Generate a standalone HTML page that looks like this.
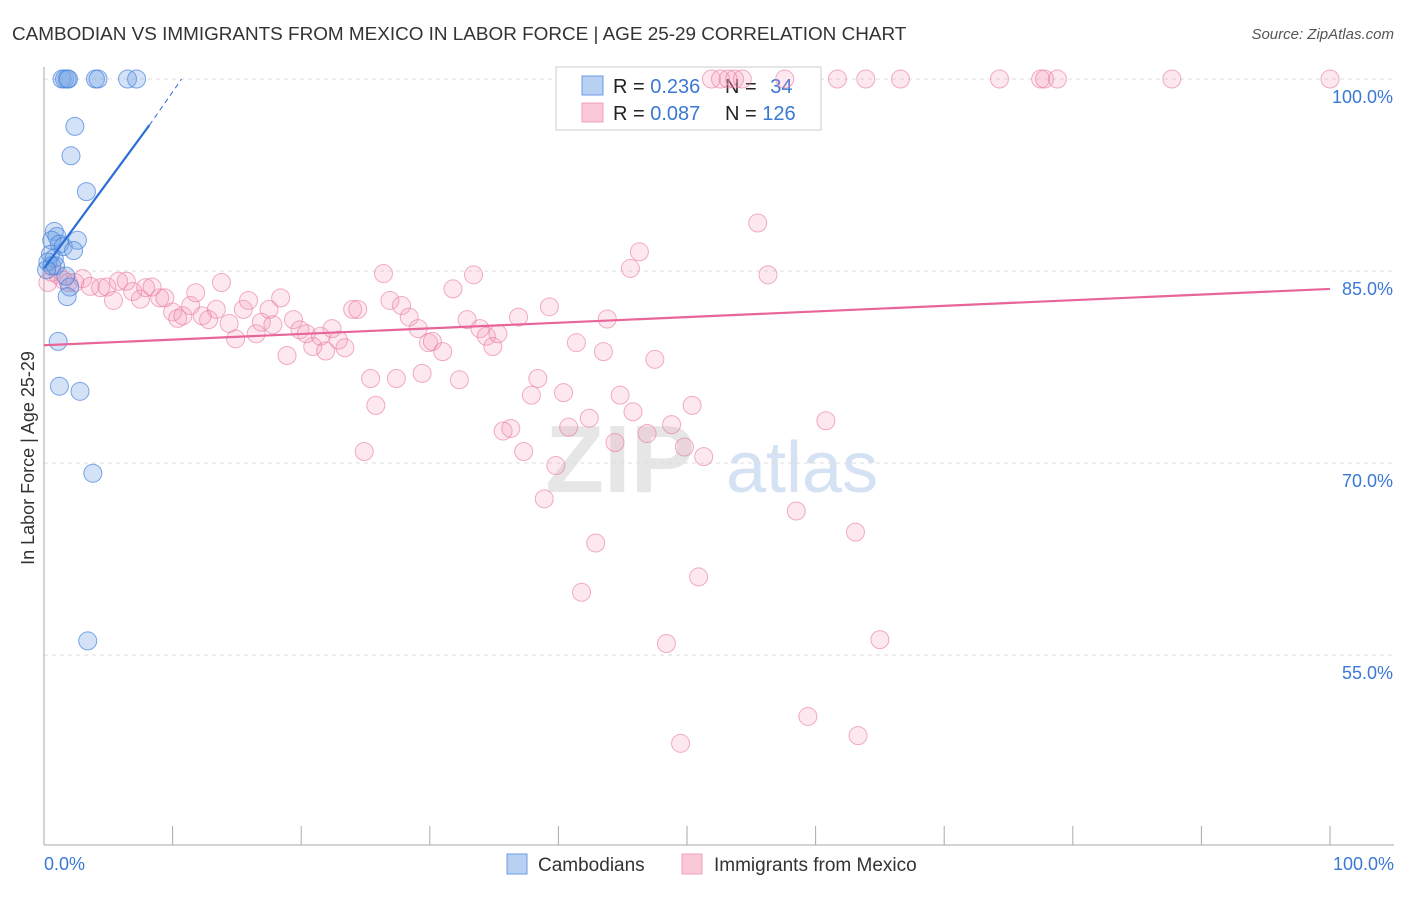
<!DOCTYPE html>
<html><head><meta charset="utf-8"><style>
body{margin:0;background:#fff;font-family:"Liberation Sans",sans-serif;}
svg text{font-family:"Liberation Sans",sans-serif;}
</style></head><body>
<svg id="chart" width="1406" height="892" viewBox="0 0 1406 892" xmlns="http://www.w3.org/2000/svg">
<text x="12" y="40" font-size="18.9" fill="#333">CAMBODIAN VS IMMIGRANTS FROM MEXICO IN LABOR FORCE | AGE 25-29 CORRELATION CHART</text>
<text x="1394" y="39" font-size="15" fill="#555" font-style="italic" text-anchor="end">Source: ZipAtlas.com</text>
<text x="34" y="458" font-size="18" fill="#333" text-anchor="middle" transform="rotate(-90 34 458)">In Labor Force | Age 25-29</text>
<text x="620" y="492" font-size="96" fill="#e6e6e6" text-anchor="middle" font-weight="bold">ZIP</text>
<text x="802" y="492" font-size="72" fill="#d4e2f4" text-anchor="middle">atlas</text>
<g id="grid"></g><g id="axes"></g>
<g>
<rect x="556" y="67" width="265" height="63" fill="#fff" stroke="#ccc"/>
<rect x="582" y="76" width="21" height="19" fill="#b8d1f3" stroke="#6a9be0"/>
<rect x="582" y="103" width="21" height="19" fill="#fbc8d8" stroke="#eda0bb"/>
<text x="613" y="93" font-size="20" fill="#222">R = <tspan fill="#3a78d4">0.236</tspan></text>
<text x="725" y="93" font-size="20" fill="#222">N = <tspan fill="#3a78d4" dx="8">34</tspan></text>
<text x="613" y="120" font-size="20" fill="#222">R = <tspan fill="#3a78d4">0.087</tspan></text>
<text x="725" y="120" font-size="20" fill="#222">N = <tspan fill="#3a78d4">126</tspan></text>
</g>
<g id="pts"></g><g id="lines"></g>
<g>
<rect x="507" y="854" width="20" height="20" fill="#b8d1f3" stroke="#6a9be0"/>
<text x="538" y="871" font-size="19" fill="#333">Cambodians</text>
<rect x="682" y="854" width="20" height="20" fill="#fbc8d8" stroke="#eda0bb"/>
<text x="714" y="871" font-size="19" fill="#333">Immigrants from Mexico</text>
</g>
</svg>
<script>
const yTicks=[100,85,70,55];
const yTickLabels=["100.0%","85.0%","70.0%","55.0%"];
const xLabels=["0.0%","100.0%"];
const blueX=[1.4,1.6,1.9,1.8,4.0,4.2,6.5,7.2,2.4,2.1,3.3,0.8,1.0,0.6,1.2,1.5,2.6,2.3,0.5,0.8,0.3,0.6,2.0,1.8,1.1,1.2,2.8,3.8,3.4,0.9,0.2,1.7];
const blueY=[100,100,100,100,100,100,100,100,96.3,94.0,91.2,88.1,87.7,87.4,87.1,86.9,87.4,86.6,86.3,86.0,85.7,85.4,83.75,83.0,79.5,76.0,75.6,69.2,56.1,85.4,85.1,84.6];
const pinkX=[0.3,0.6,1.1,1.5,1.9,2.4,3.0,3.6,4.4,4.9,5.4,5.8,6.4,6.9,7.5,7.9,8.4,9.0,9.4,10.0,10.4,10.8,11.4,11.8,12.3,12.8,13.4,13.8,14.4,14.9,15.5,15.9,16.5,16.9,17.5,17.8,18.4,18.9,19.4,19.9,20.4,20.9,21.5,21.9,22.4,22.9,23.4,24.0,24.4,25.4,25.8,24.9,26.4,26.9,27.4,27.8,28.4,29.1,29.4,29.9,30.2,31.0,31.8,32.3,32.9,33.4,33.9,34.4,34.9,35.3,35.7,36.3,36.9,37.3,37.9,38.4,38.9,39.3,39.8,40.4,40.8,41.4,42.4,42.9,41.8,43.5,43.8,44.4,44.8,45.6,45.8,46.3,46.9,47.5,48.4,48.8,49.5,49.8,50.4,50.9,51.3,55.5,56.3,58.5,59.4,60.8,63.1,63.3,65.0,51.9,52.6,53.2,53.7,54.3,57.6,61.7,63.9,66.6,74.3,77.5,77.8,78.8,87.7,100];
const pinkY=[84.1,84.9,84.7,84.3,84.1,84.1,84.4,83.8,83.7,83.75,82.7,84.2,84.2,83.4,82.8,83.7,83.75,82.9,82.9,81.8,81.3,81.5,82.3,83.3,81.5,81.2,82.0,84.1,80.9,79.7,82.0,82.7,80.1,81.0,82.0,80.8,82.9,78.4,81.2,80.4,80.1,79.1,79.9,78.75,80.5,79.6,79.0,82.0,82.0,76.6,74.5,70.9,84.8,82.7,76.6,82.3,81.4,80.5,77.0,79.4,79.5,78.7,83.6,76.5,81.2,84.7,80.5,79.9,79.1,80.1,72.5,72.7,81.4,70.9,75.3,76.6,67.2,82.2,69.8,75.5,72.8,79.4,73.5,63.75,59.9,78.7,81.25,71.6,75.3,85.2,74.0,86.5,72.3,78.1,55.9,73.0,48.1,71.25,74.5,61.1,70.5,88.75,84.7,66.25,50.2,73.3,64.6,48.7,56.2,100,100,100,100,100,100,100,100,100,100,100,100,100,100,100];
const pinkFit=[79.2,83.6];
const blueFit=[85.2,96.4,100];
const blueFitX=[0,8.2,10.7];
const NS="http://www.w3.org/2000/svg";
const X=v=>44+v*12.86, Y=v=>79+(100-v)*12.8;
function mk(tag,attrs,parent){const e=document.createElementNS(NS,tag);for(const k in attrs)e.setAttribute(k,attrs[k]);document.getElementById(parent).appendChild(e);return e;}
yTicks.forEach((t,i)=>{
 const l=mk('line',{x1:44,x2:1394,y1:Y(t),y2:Y(t),stroke:'#ddd','stroke-dasharray':'4,4'},'grid');
 
 
 const tx=mk('text',{x:1393,y:Y(t)+24,'font-size':18,fill:'#3a78d4','text-anchor':'end'},'axes');
 tx.textContent=yTickLabels[i];
 
 
});
let ax=mk('line',{x1:44,x2:44,y1:67,y2:845,stroke:'#aaa'},'axes');


ax=mk('line',{x1:44,x2:1394,y1:845,y2:845,stroke:'#aaa'},'axes');


for(let i=0;i<=10;i++){const t=mk('line',{x1:X(i*10),x2:X(i*10),y1:826,y2:845,stroke:'#aaa'},'axes');
 
 }
[[0,'start',44],[100,'end',1394]].forEach((d,i)=>{const t=mk('text',{x:d[2],y:870,'font-size':18,fill:'#3a78d4','text-anchor':d[1]},'axes');t.textContent=xLabels[i];
 
 });
pinkX.forEach((v,i)=>{const c=mk('circle',{cx:X(v),cy:Y(pinkY[i]),r:9,fill:'rgba(244,150,182,0.22)',stroke:'rgba(232,120,160,0.6)','stroke-width':1},'pts');
 
 });
blueX.forEach((v,i)=>{const c=mk('circle',{cx:X(v),cy:Y(blueY[i]),r:9,fill:'rgba(110,160,230,0.3)',stroke:'rgba(70,130,220,0.7)','stroke-width':1},'pts');
 
 });
let ln=mk('line',{x1:X(0),y1:Y(pinkFit[0]),x2:X(100),y2:Y(pinkFit[1]),stroke:'#e8659a','stroke-width':2.2},'lines');


ln=mk('line',{x1:X(blueFitX[0]),y1:Y(blueFit[0]),x2:X(blueFitX[1]),y2:Y(blueFit[1]),stroke:'#2b6fd6','stroke-width':2.2},'lines');


ln=mk('line',{x1:X(blueFitX[1]),y1:Y(blueFit[1]),x2:X(blueFitX[2]),y2:Y(blueFit[2]),stroke:'#2b6fd6','stroke-width':1,'stroke-dasharray':'5,4'},'lines');


</script>
</body></html>
